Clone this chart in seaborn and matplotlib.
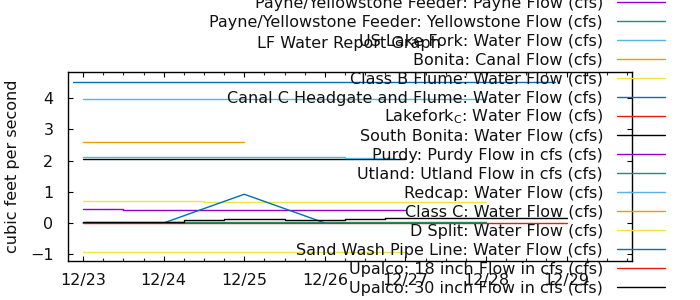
import matplotlib
matplotlib.use("Agg")
import matplotlib.pyplot as plt
import matplotlib.dates as mdates
from matplotlib.lines import Line2D
import seaborn as sns
import pandas as pd

# ---------------- data ----------------
title = "LF Water Report Graph"
ylabel = "cubic feet per second"

labels = [
    "Payne/Yellowstone Feeder: Payne Flow (cfs)",
    "Payne/Yellowstone Feeder: Yellowstone Flow (cfs)",
    "US Lake Fork: Water Flow (cfs)",
    "Bonita: Canal Flow (cfs)",
    "Class B Flume: Water Flow (cfs)",
    "Canal C Headgate and Flume: Water Flow (cfs)",
    r"Lakefork$_{\mathrm{C}}$: Water Flow (cfs)",
    "South Bonita: Water Flow (cfs)",
    "Purdy: Purdy Flow in cfs (cfs)",
    "Utland: Utland Flow in cfs (cfs)",
    "Redcap: Water Flow (cfs)",
    "Class C: Water Flow (cfs)",
    "D Split: Water Flow (cfs)",
    "Sand Wash Pipe Line: Water Flow (cfs)",
    "Upalco: 18 inch Flow in cfs (cfs)",
    "Upalco: 30 inch Flow in cfs (cfs)",
]
colors = ["#9400d3", "#009e73", "#56b4e9", "#e69f00",
          "#f0e442", "#0072b2", "#e51e10", "#000000"] * 2

payne_t = ["2023-12-23 00:00", "2023-12-23 12:00", "2023-12-27 00:00"]
payne_v = [0.45, 0.40, 0.40]
yellowstone_t = ["2023-12-23 00:00", "2023-12-28 00:00"]
yellowstone_v = [0.02, 0.02]
uslakefork_t = ["2023-12-23 00:00", "2023-12-24 12:00", "2023-12-28 00:00"]
uslakefork_v = [3.96, 3.99, 3.99]
bonita_t = ["2023-12-23 00:00", "2023-12-25 00:00"]
bonita_v = [2.59, 2.59]
classb_t = ["2023-12-23 00:00", "2023-12-24 12:00", "2023-12-28 00:00"]
classb_v = [0.69, 0.66, 0.66]
canalc_t = ["2023-12-22 21:00", "2023-12-28 20:40"]
canalc_v = [4.53, 4.53]
lakeforkc_t = []
lakeforkc_v = []
southbonita_t = ["2023-12-23 00:00", "2023-12-27 00:00"]
southbonita_v = [2.04, 2.04]
purdy_t = []
purdy_v = []
utland_t = []
utland_v = []
redcap_t = ["2023-12-23 00:00", "2023-12-25 12:00", "2023-12-26 06:00", "2023-12-26 21:00"]
redcap_v = [2.13, 2.10, 2.07, 2.07]
classc_t = []
classc_v = []
dsplit_t = ["2023-12-23 00:00", "2023-12-27 00:00"]
dsplit_v = [-0.94, -0.94]
sandwash_t = ["2023-12-23 00:00", "2023-12-24 00:00", "2023-12-25 00:00", "2023-12-26 00:00"]
sandwash_v = [0.0, 0.0, 0.92, 0.0]
upalco18_t = ["2023-12-23 00:00", "2023-12-29 00:00"]
upalco18_v = [0.0, 0.0]
upalco30_t = ["2023-12-23 00:00", "2023-12-24 06:00", "2023-12-24 18:00", "2023-12-25 12:00",
              "2023-12-26 06:00", "2023-12-26 18:00", "2023-12-28 12:00", "2023-12-29 00:00"]
upalco30_v = [0.04, 0.09, 0.13, 0.09, 0.13, 0.17, 0.15, 0.15]

series_t = [payne_t, yellowstone_t, uslakefork_t, bonita_t, classb_t, canalc_t,
            lakeforkc_t, southbonita_t, purdy_t, utland_t, redcap_t, classc_t,
            dsplit_t, sandwash_t, upalco18_t, upalco30_t]
series_v = [payne_v, yellowstone_v, uslakefork_v, bonita_v, classb_v, canalc_v,
            lakeforkc_v, southbonita_v, purdy_v, utland_v, redcap_v, classc_v,
            dsplit_v, sandwash_v, upalco18_v, upalco30_v]
linear_series = [13]  # Sand Wash drawn with straight segments

x_range = ("2023-12-22 19:30", "2023-12-29 19:30")
y_range = (-1.22, 4.84)
y_ticks = [-1, 0, 1, 2, 3, 4]

# ---------------- style ----------------
sns.set_theme(style="ticks")
plt.rcParams["font.family"] = ["DejaVu Sans"]
FS = 11.5
TXT = "#111111"

W, H = 700, 300
fig = plt.figure(figsize=(7, 3), dpi=100)
ax = fig.add_axes([68 / W, 1 - 261 / H, (632 - 68) / W, (261 - 72) / H])

for i, (t, v) in enumerate(zip(series_t, series_v)):
    if len(t) == 0:
        continue
    df = pd.DataFrame({"t": pd.to_datetime(t), "v": v})
    kw = {} if i in linear_series else {"drawstyle": "steps-post"}
    sns.lineplot(data=df, x="t", y="v", ax=ax, color=colors[i], linewidth=1.0,
                 estimator=None, legend=False, **kw)

ax.set_xlim(pd.Timestamp(x_range[0]), pd.Timestamp(x_range[1]))
ax.set_ylim(*y_range)
ax.set_yticks(y_ticks)
ax.set_xlabel("")
ax.set_ylabel("")
ax.xaxis.set_major_locator(mdates.DayLocator())
ax.xaxis.set_major_formatter(mdates.DateFormatter("%m/%d"))
ax.xaxis.set_minor_locator(mdates.HourLocator(byhour=[6, 12, 18]))
ax.tick_params(axis="both", which="major", direction="in", length=3.5, width=0.8,
               top=True, right=True, labelsize=FS, colors="black")
ax.tick_params(axis="x", which="major", pad=8.5)
ax.tick_params(axis="y", which="major", pad=10.5)
ax.tick_params(axis="x", which="minor", direction="in", length=2, width=0.8, top=True)
for s in ax.spines.values():
    s.set_visible(True)
    s.set_color("black")
    s.set_linewidth(1.0)
for lbl in ax.get_xticklabels() + ax.get_yticklabels():
    lbl.set_color(TXT)

fig.text(349 / W, 1 - 47.7 / H, title, ha="center", va="baseline", fontsize=FS, color=TXT)
fig.text(12.5 / W, 1 - 166.5 / H, ylabel, rotation=90, ha="center", va="center",
         fontsize=FS, color=TXT)

# key, gnuplot style: right-justified text with sample line at the right
for i, (lab, col) in enumerate(zip(labels, colors)):
    yl = 2.3 + 19 * i
    fig.text(603 / W, 1 - (yl + 5.5) / H, lab, ha="right", va="baseline",
             fontsize=FS, color=TXT, zorder=5)
    fig.add_artist(Line2D([617 / W, 665 / W], [1 - yl / H, 1 - yl / H],
                          transform=fig.transFigure, color=col, linewidth=1.0, zorder=5))

fig.savefig("out.png", dpi=100)
